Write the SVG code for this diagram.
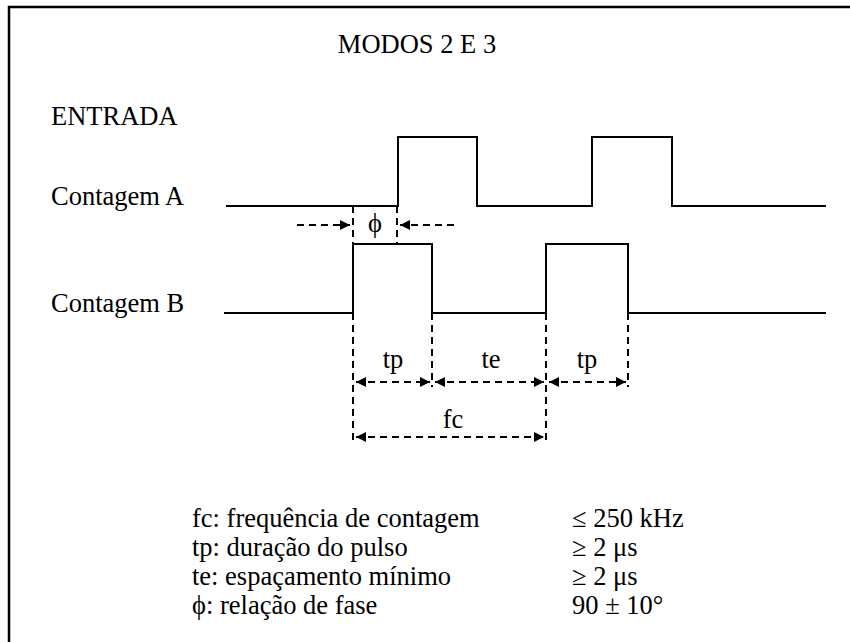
<svg xmlns="http://www.w3.org/2000/svg" width="850" height="642" viewBox="0 0 850 642">
<style>
text{font-family:"Liberation Serif","Times New Roman","DejaVu Serif",serif;font-size:26.5px;fill:#000}
.sig{fill:none;stroke:#000;stroke-width:2}
.dash{fill:none;stroke:#000;stroke-width:2;stroke-dasharray:7,5}
.mid{text-anchor:middle}
</style>
<defs>
<marker id="ah" viewBox="0 0 10 10" refX="10" refY="5" markerWidth="12" markerHeight="10" markerUnits="userSpaceOnUse" orient="auto-start-reverse">
<path d="M0,0 L10,5 L0,10 Z" fill="#000"/>
</marker>
</defs>
<rect width="850" height="642" fill="#fff"/>
<rect x="9" y="7" width="860" height="660" fill="none" stroke="#000" stroke-width="2.5"/>
<g id="title"><text x="417" y="53" class="mid">MODOS 2 E 3</text></g>
<g id="entrada"><text x="51" y="125">ENTRADA</text></g>
<g id="contagemA">
<text x="51" y="205">Contagem A</text>
<path class="sig" d="M226,206 H398 V137 H477 V206 H592 V137 H672 V206 H826"/>
</g>
<g id="contagemB">
<text x="51" y="312">Contagem B</text>
<path class="sig" d="M224,313 H353 V244 H432 V313 H546 V244 H628 V313 H826"/>
</g>
<g id="connectors">
<line class="dash" x1="353" y1="206" x2="353" y2="244"/>
<line class="dash" x1="397" y1="206" x2="397" y2="244"/>
<line class="dash" x1="297" y1="225" x2="350" y2="225" marker-end="url(#ah)"/>
<line class="dash" x1="454" y1="225" x2="400" y2="225" marker-end="url(#ah)"/>
<line class="dash" x1="353" y1="313" x2="353" y2="440"/>
<line class="dash" x1="432" y1="313" x2="432" y2="387"/>
<line class="dash" x1="546" y1="313" x2="546" y2="440"/>
<line class="dash" x1="628" y1="313" x2="628" y2="387"/>
<line class="dash" x1="356" y1="382" x2="430" y2="382" marker-start="url(#ah)" marker-end="url(#ah)"/>
<line class="dash" x1="435" y1="382" x2="544" y2="382" marker-start="url(#ah)" marker-end="url(#ah)"/>
<line class="dash" x1="549" y1="382" x2="626" y2="382" marker-start="url(#ah)" marker-end="url(#ah)"/>
<line class="dash" x1="356" y1="437" x2="544" y2="437" marker-start="url(#ah)" marker-end="url(#ah)"/>
</g>
<g id="labels">
<text x="375" y="232" class="mid">ϕ</text>
<text x="393" y="368" class="mid">tp</text>
<text x="491" y="368" class="mid">te</text>
<text x="587" y="368" class="mid">tp</text>
<text x="453" y="428" class="mid">fc</text>
</g>
<g id="legend">
<text x="192" y="527">fc: frequência de contagem</text>
<text x="192" y="556">tp: duração do pulso</text>
<text x="192" y="585">te: espaçamento mínimo</text>
<text x="192" y="614">ϕ: relação de fase</text>
<text x="572" y="527">≤ 250 kHz</text>
<text x="572" y="556">≥ 2 μs</text>
<text x="572" y="585">≥ 2 μs</text>
<text x="572" y="614">90 ± 10°</text>
</g>
</svg>
